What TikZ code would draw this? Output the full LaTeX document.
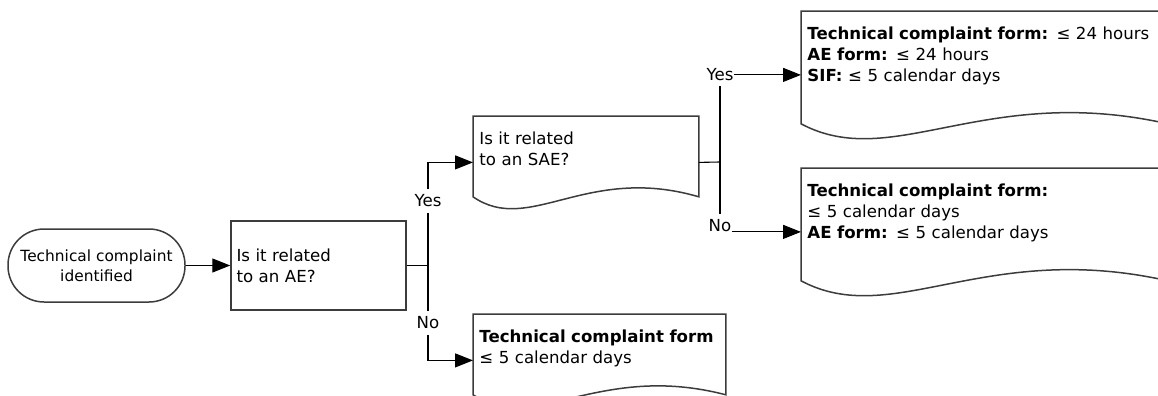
\documentclass[tikz,border=0pt]{standalone}
\usepackage{fontspec}
\setmainfont{DejaVu Sans}
\usetikzlibrary{calc, arrows.meta}
\definecolor{outline}{RGB}{60, 60, 60}
% outline of a document shape: sides, top and wavy bottom
\newcommand{\docoutline}[2]{%
	\draw[docline] ($(#1.south west)+(0,-#2)$) -- (#1.north west) -- (#1.north east) -- ($(#1.south east)+(0,-#2)$)
	.. controls ($(#1.south west)!0.5!(#1.south east)+(0,{-3.75*#2})$) and ($(#1.south west)!0.25!(#1.south east)+(0,{2.25*#2})$) .. ($(#1.south west)+(0,-#2)$) -- cycle;}

\begin{document}
\begin{tikzpicture}[
	x=0.5pt, y=-0.5pt,
	font=\fontsize{8.3pt}{10.5pt}\selectfont,
	% Styles for the flowchart blocks
	terminal/.style={draw=outline, line width=0.75pt, rounded corners=18pt, minimum width=88.5pt, minimum height=36.5pt, align=center, inner sep=1pt, font=\fontsize{7.7pt}{10pt}\selectfont},
	process/.style={draw=outline, line width=0.75pt, minimum width=87.5pt, minimum height=44.5pt, text width=82pt, inner xsep=2.75pt, align=left},
	docbox/.style={align=left, anchor=north west, inner xsep=3pt, inner ysep=3pt, text height=11pt},
	docline/.style={draw=outline, line width=0.75pt},
	conn/.style={line width=0.55pt},
	arr/.style={conn, -{Triangle[length=9pt, width=7pt]}},
	lbl/.style={inner xsep=0.3pt, inner ysep=2.5pt}
	]
	
	\useasboundingbox (0,0) rectangle (1158,396);
	\clip (0,0) rectangle (1158,396);
	
	% ==========================================
	% 1. START AND FIRST QUESTION
	% ==========================================
	\node[terminal] (start) at (96.5,265.5) {Technical complaint\\identified};
	\node[process] (ae) at (318.5,265.5) {Is it related\\to an AE?};
	\draw[arr] (start) -- (ae);
	
	% ==========================================
	% 2. SECOND QUESTION AND NO-AE OUTCOME
	% ==========================================
	\node[docbox, text width=106.5pt, text depth=29pt] (sae) at (473,116) {Is it related\\to an SAE?};
	\docoutline{sae}{12}
	
	\node[docbox, text width=120pt, text depth=29pt] (noae) at (473,314) {\textbf{Technical complaint form}\\≤ 5 calendar days};
	\docoutline{noae}{12}
	
	% Branch after the AE question
	\coordinate (j1) at (428,265.5);
	\node[lbl] (yes1) at (428,201) {Yes};
	\node[lbl] (no1) at (428,323) {No};
	\draw[conn] (ae.east) -- (j1);
	\draw[conn] (j1) -- (yes1.south);
	\draw[conn] (j1) -- (no1.north);
	\draw[arr] (yes1.north) |- (sae.west);
	\draw[arr] (no1.south) |- (noae.west);
	
	% ==========================================
	% 3. SAE AND NON-SAE OUTCOMES
	% ==========================================
	\node[docbox, text width=177pt, text depth=46.5pt] (saeforms) at (801,11) {\textbf{Technical complaint form:} ≤ 24 hours\\\textbf{AE form:} ≤ 24 hours\\\textbf{SIF:} ≤ 5 calendar days};
	\docoutline{saeforms}{15}
	
	\node[docbox, text width=177pt, text depth=46.5pt] (aeforms) at (801,168) {\textbf{Technical complaint form:}\\≤ 5 calendar days\\\textbf{AE form:} ≤ 5 calendar days};
	\docoutline{aeforms}{15}
	
	% Branch after the SAE question
	\coordinate (j2) at (720,162);
	\node[lbl] (yes2) at (saeforms.west -| j2) {Yes};
	\node[lbl, anchor=base] (no2) at (aeforms.west -| j2) {No};
	\draw[conn] (sae.east) -- (j2);
	\draw[conn] (j2) -- (yes2.south);
	\draw[conn] (j2) -- (no2.north);
	\draw[arr] (yes2.east) -- (saeforms.west);
	\draw[arr] (no2.base east) -- (aeforms.west);
	
\end{tikzpicture}
\end{document}
